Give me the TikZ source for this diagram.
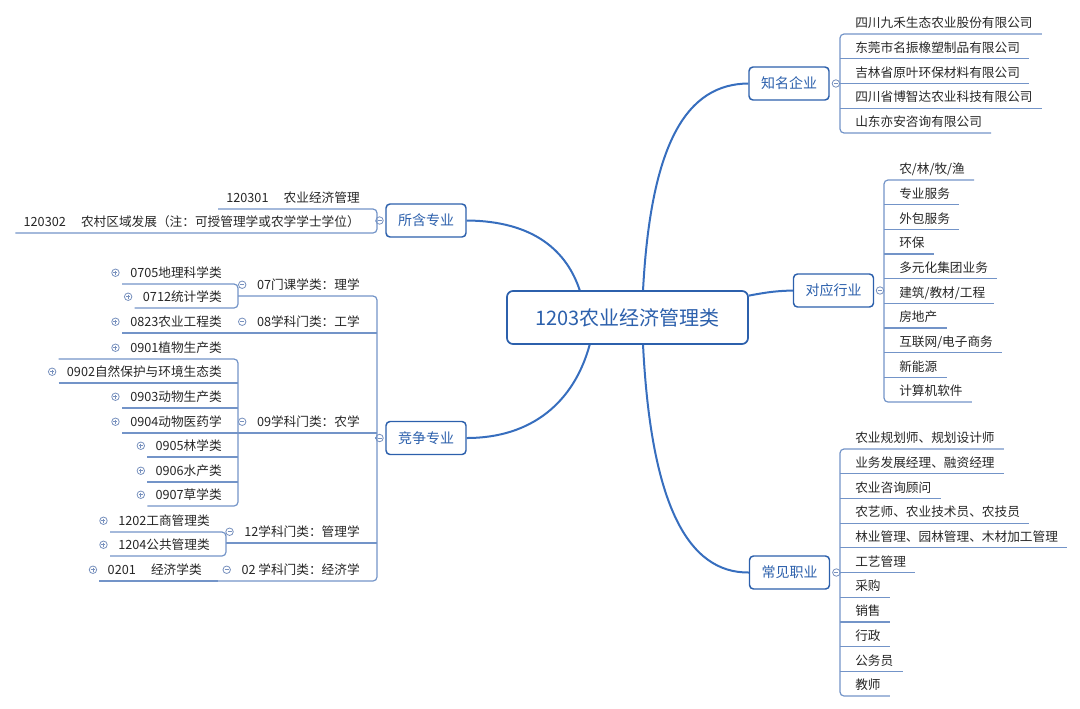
\documentclass[tikz,border=0pt]{standalone}
\usepackage{fontspec}
\setmainfont{Noto Sans CJK SC}
\usetikzlibrary{positioning, calc}
\definecolor{MapBlue}{RGB}{44,96,172}
\definecolor{CurveBlue}{RGB}{55,110,190}
\definecolor{LineBlue}{RGB}{115,148,200}
\definecolor{FoldGray}{RGB}{120,145,190}
\definecolor{ItemText}{RGB}{38,38,38}

\begin{document}
\begin{tikzpicture}[
        x=0.75pt, y=-0.75pt,
        root/.style={rectangle, rounded corners=4.5pt, draw=MapBlue, line width=1.3pt, fill=white, minimum width=180.75pt, minimum height=39.75pt, text=MapBlue, font=\fontsize{15}{18}\selectfont},
        topic/.style={rectangle, rounded corners=3pt, draw=MapBlue, line width=1.1pt, fill=white, minimum width=60pt, minimum height=24.75pt, text=MapBlue, font=\fontsize{10.5}{12}\selectfont},
        ritem/.style={anchor=south west, inner xsep=6.75pt, inner ysep=3pt, text height=9pt, text depth=1.5pt, text=ItemText, font=\fontsize{9.5}{11}\selectfont},
        litem/.style={ritem, anchor=south east, inner xsep=6pt},
        curve/.style={CurveBlue, line width=1.5pt},
        sub/.style={LineBlue, line width=0.9pt},
        fold/.style={circle, draw=FoldGray, fill=white, line width=0.6pt, inner sep=0pt, minimum size=5.6pt},
        minus/.style={fold, path picture={\draw[FoldGray, line width=0.5pt] ([xshift=1.3pt]path picture bounding box.west) -- ([xshift=-1.3pt]path picture bounding box.east);}},
        plus/.style={fold, path picture={\draw[FoldGray, line width=0.5pt] ([xshift=1.3pt]path picture bounding box.west) -- ([xshift=-1.3pt]path picture bounding box.east) ([yshift=-1.3pt]path picture bounding box.north) -- ([yshift=1.3pt]path picture bounding box.south);}}
    ]
    \useasboundingbox (0,0) rectangle (1080,708);

    % Centre and main topics
    \node[root] (root) at (627.5,317.5) {1203农业经济管理类};
    \node[topic] (zm) at (789,83.5) {知名企业};
    \node[topic] (dy) at (833.5,290.5) {对应行业};
    \node[topic] (cj) at (789.5,572.5) {常见职业};
    \node[topic] (sh) at (426,220.5) {所含专业};
    \node[topic] (jz) at (426,438) {竞争专业};

    \draw[curve] ($(root.north west)!0.564!(root.north east)$) .. controls (651,140) and (688,84) .. (zm.west);
    \draw[curve] ($(root.north east)!0.1!(root.south east)$) .. controls (768,292) and (776,291) .. (dy.west);
    \draw[curve] ($(root.south west)!0.564!(root.south east)$) .. controls (651,505) and (688,573) .. (cj.west);
    \draw[curve] ($(root.north west)!0.303!(root.north east)$) .. controls (567,252) and (535,221) .. (sh.east);
    \draw[curve] ($(root.south west)!0.344!(root.south east)$) .. controls (574,402) and (532,438) .. (jz.east);

    % Known companies
    \node[minus, right=1.5pt of zm] (fzm) {};
    \coordinate (zms) at (840,84);
    \foreach \txt [count=\i] in {四川九禾生态农业股份有限公司, 东莞市名振橡塑制品有限公司, 吉林省原叶环保材料有限公司, 四川省博智达农业科技有限公司, 山东亦安咨询有限公司}
        \node[ritem] (zm\i) at (846,9.25+24.75*\i) {\txt};
    \draw[sub, rounded corners=3pt] (zm1.south east) -- (zms |- zm1.south) -- (zms |- zm5.south) -- (zm5.south east);
    \foreach \i in {2,...,4} \draw[sub] (zms |- zm\i.south) -- (zm\i.south east);
    \draw[sub] (fzm) -- (zms);

    % Industries
    \node[minus, right=1.2pt of dy] (fdy) {};
    \coordinate (dys) at (884,291);
    \foreach \txt [count=\i] in {{农/林/牧/渔}, 专业服务, 外包服务, 环保, 多元化集团业务, {建筑/教材/工程}, 房地产, {互联网/电子商务}, 新能源, 计算机软件}
        \node[ritem] (dy\i) at (890,155.33+24.67*\i) {\txt};
    \draw[sub, rounded corners=3pt] (dy1.south east) -- (dys |- dy1.south) -- (dys |- dy10.south) -- (dy10.south east);
    \foreach \i in {2,...,9} \draw[sub] (dys |- dy\i.south) -- (dy\i.south east);
    \draw[sub] (fdy) -- (dys);

    % Careers
    \node[minus, right=1.5pt of cj] (fcj) {};
    \coordinate (cjs) at (840,573);
    \foreach \txt [count=\i] in {农业规划师、规划设计师, 业务发展经理、融资经理, 农业咨询顾问, 农艺师、农业技术员、农技员, 林业管理、园林管理、木材加工管理, 工艺管理, 采购, 销售, 行政, 公务员, 教师}
        \node[ritem] (cj\i) at (846,424.3+24.7*\i) {\txt};
    \draw[sub, rounded corners=3pt] (cj1.south east) -- (cjs |- cj1.south) -- (cjs |- cj11.south) -- (cj11.south east);
    \foreach \i in {2,...,10} \draw[sub] (cjs |- cj\i.south) -- (cj\i.south east);
    \draw[sub] (fcj) -- (cjs);

    % Included majors
    \node[minus, left=1.2pt of sh] (fsh) {};
    \coordinate (shs) at (377,221);
    \node[litem] (m1) at (368,209) {120301\hspace{1.2em}农业经济管理};
    \node[litem] (m2) at (368,233) {120302\hspace{1.2em}农村区域发展（注：可授管理学或农学学士学位）};
    \draw[sub, rounded corners=3pt] (m1.south west) -- (shs |- m1.south) -- (shs |- m2.south) -- (m2.south west);
    \draw[sub] (fsh) -- (shs);

    % Competing majors
    \node[minus, left=1.2pt of jz] (fjz) {};
    \coordinate (jzs) at (377,438);
    \node[litem] (c07) at (368,296) {07门课学类：理学};
    \node[litem] (c08) at (368,333) {08学科门类：工学};
    \node[litem] (c09) at (368,433) {09学科门类：农学};
    \node[litem] (c12) at (368,543) {12学科门类：管理学};
    \node[litem] (c02) at (368,581) {02 学科门类：经济学};
    \coordinate (s07) at (238,296);
    \coordinate (s08) at (238,333);
    \coordinate (s09) at (238,433);
    \coordinate (s12) at (226,543);
    \coordinate (s02) at (218,581);
    \draw[sub, rounded corners=3pt] (s07) -- (jzs |- s07) -- (jzs |- s02) -- (s02);
    \draw[sub] (s08) -- (jzs |- s08);
    \draw[sub] (s09) -- (jzs |- s09);
    \draw[sub] (s12) -- (jzs |- s12);
    \draw[sub] (fjz) -- (jzs);
    \foreach \n in {07,08,09,12,02} \node[minus, left=1.8pt of c\n] (f\n) {};

    % Disciplines under each category
    \node[litem] (d0705) at (230,284) {0705地理科学类};
    \node[litem] (d0712) at (230,308) {0712统计学类};
    \node[litem] (d0823) at (230,333) {0823农业工程类};
    \node[litem] (d0901) at (230,359) {0901植物生产类};
    \node[litem] (d0902) at (230,383) {0902自然保护与环境生态类};
    \node[litem] (d0903) at (230,408) {0903动物生产类};
    \node[litem] (d0904) at (230,433) {0904动物医药学};
    \node[litem] (d0905) at (230,457) {0905林学类};
    \node[litem] (d0906) at (230,482) {0906水产类};
    \node[litem] (d0907) at (230,506) {0907草学类};
    \node[litem] (d1202) at (218,532) {1202工商管理类};
    \node[litem] (d1204) at (218,556) {1204公共管理类};
    \node[litem] (d0201) at (210,581) {0201\hspace{1.2em}经济学类};
    \draw[sub, rounded corners=3pt] (d0705.south west) -- (s07 |- d0705.south) -- (s07 |- d0712.south) -- (d0712.south west);
    \draw[sub] (d0823.south west) -- (s08);
    \draw[sub, rounded corners=3pt] (d0902.south west |- d0901.south) -- (s09 |- d0901.south) -- (s09 |- d0907.south) -- (d0907.south west);
    \foreach \n in {0902,0903,0904,0905,0906} \draw[sub] (d\n.south west) -- (s09 |- d\n.south);
    \draw[sub, rounded corners=3pt] (d1202.south west) -- (s12 |- d1202.south) -- (s12 |- d1204.south) -- (d1204.south west);
    \draw[sub] (d0201.south west) -- (s02);
    \foreach \n in {0705,0712,0823,0901,0902,0903,0904,0905,0906,0907,1202,1204,0201} \node[plus, left=1.8pt of d\n] (p\n) {};
\end{tikzpicture}
\end{document}
